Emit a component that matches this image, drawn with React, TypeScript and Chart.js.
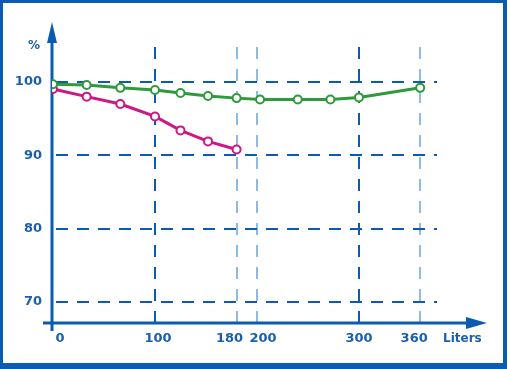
import React, { useEffect, useRef } from "react";
import { Chart, registerables } from "chart.js";

Chart.register(...registerables);

const liters = [0, 33, 66, 100, 125, 152, 180, 203, 240, 272, 300, 360];
const greenSeries = [99.7, 99.6, 99.2, 98.9, 98.5, 98.1, 97.8, 97.6, 97.6, 97.6, 97.9, 99.2];
const pinkLiters = [0, 33, 66, 100, 125, 152, 180];
const pinkSeries = [99.05, 98.0, 97.0, 95.3, 93.4, 91.9, 90.8];
const xTicks = [0, 100, 180, 200, 300, 360];
const yTicks = [70, 80, 90, 100];
const darkX = [100, 300];

const BLUE = "#0b5cb0";
const LIGHT = "#8dbbe6";
const TEXT = "#1a5fae";
const GREEN = "#2f9a3c";
const PINK = "#cc1784";
const FONT = "'DejaVu Sans', Verdana, sans-serif";

// small horizontal nudges so crowded labels don't collide (like the original)
const labelNudge: Record<number, number> = { 0: 7, 100: 3, 180: -7, 200: 6, 300: 0, 360: -6 };

const axesPlugin = {
  id: "arrowAxes",
  beforeDatasetsDraw(chart: any) {
    const { ctx, chartArea } = chart;
    const xs = chart.scales.x;
    const ys = chart.scales.y;
    const ax = xs.getPixelForValue(xs.min);
    const ay = ys.getPixelForValue(ys.min);
    ctx.save();
    ctx.strokeStyle = BLUE;
    ctx.fillStyle = BLUE;
    ctx.lineWidth = 3;
    ctx.beginPath();
    ctx.moveTo(ax, ay + 8);
    ctx.lineTo(ax, chartArea.top - 8);
    ctx.stroke();
    ctx.beginPath();
    ctx.moveTo(ax, chartArea.top - 25);
    ctx.lineTo(ax - 5, chartArea.top - 4);
    ctx.lineTo(ax + 5, chartArea.top - 4);
    ctx.closePath();
    ctx.fill();
    ctx.beginPath();
    ctx.moveTo(ax - 9, ay);
    ctx.lineTo(chartArea.right + 34, ay);
    ctx.stroke();
    ctx.beginPath();
    ctx.moveTo(chartArea.right + 50, ay);
    ctx.lineTo(chartArea.right + 29, ay - 6);
    ctx.lineTo(chartArea.right + 29, ay + 6);
    ctx.closePath();
    ctx.fill();
    ctx.fillStyle = TEXT;
    ctx.font = "bold 12px " + FONT;
    ctx.textBaseline = "middle";
    ctx.textAlign = "center";
    ctx.fillText("%", ax - 18, chartArea.top - 1);
    ctx.textAlign = "left";
    ctx.fillText("Liters", chartArea.right + 6, ay + 16);
    // x tick labels
    ctx.font = "bold 13px " + FONT;
    ctx.textAlign = "center";
    xTicks.forEach((v) => {
      ctx.fillText(String(v), xs.getPixelForValue(v) + (labelNudge[v] || 0), ay + 16);
    });
    ctx.restore();
  },
};

export default function App() {
  const ref = useRef<HTMLCanvasElement | null>(null);
  useEffect(() => {
    document.body.style.margin = "0";
    const canvas = ref.current;
    if (!canvas) return;
    const chart = new Chart(canvas, {
      type: "line",
      data: {
        datasets: [
          {
            label: "green",
            data: liters.map((x, i) => ({ x, y: greenSeries[i] })),
            borderColor: GREEN,
            backgroundColor: "#ffffff",
            borderWidth: 3,
            pointRadius: 4,
            pointBorderWidth: 2,
            pointBackgroundColor: "#ffffff",
            pointBorderColor: GREEN,
            tension: 0,
          },
          {
            label: "pink",
            data: pinkLiters.map((x, i) => ({ x, y: pinkSeries[i] })),
            borderColor: PINK,
            backgroundColor: "#ffffff",
            borderWidth: 3,
            pointRadius: 4,
            pointBorderWidth: 2,
            pointBackgroundColor: "#ffffff",
            pointBorderColor: PINK,
            tension: 0,
          },
        ],
      },
      options: {
        animation: false,
        responsive: false,
        devicePixelRatio: 1,
        layout: { padding: { top: 47, right: 73, left: 0, bottom: 0 } },
        plugins: { legend: { display: false }, tooltip: { enabled: false } },
        scales: {
          x: {
            type: "linear",
            min: -0.98,
            max: 376.5,
            afterBuildTicks(scale: any) {
              scale.ticks = xTicks.map((v) => ({ value: v }));
            },
            afterFit(scale: any) {
              scale.height = 46;
            },
            border: { display: false, dash: [12, 10] },
            grid: {
              drawTicks: false,
              lineWidth: 2,
              color: (c: any) =>
                c.tick && c.tick.value === 0
                  ? "rgba(0,0,0,0)"
                  : darkX.includes(c.tick?.value)
                  ? BLUE
                  : LIGHT,
            },
            ticks: { display: false },
          },
          y: {
            type: "linear",
            min: 67.14,
            max: 104.77,
            afterBuildTicks(scale: any) {
              scale.ticks = yTicks.map((v) => ({ value: v }));
            },
            afterFit(scale: any) {
              scale.width = 52;
            },
            border: { display: false, dash: [12, 9], dashOffset: -4 },
            grid: {
              drawTicks: false,
              lineWidth: 2,
              color: BLUE,
            },
            ticks: {
              padding: 10,
              color: TEXT,
              font: { family: FONT, size: 13, weight: "bold" },
            },
          },
        },
      },
      plugins: [axesPlugin],
    } as any);
    return () => chart.destroy();
  }, []);

  return (
    <div style={{ position: "relative", width: 510, height: 369, background: "#fff" }}>
      <canvas ref={ref} width={510} height={369} style={{ position: "absolute", left: 0, top: 0 }} />
      <div
        style={{
          position: "absolute",
          left: 0,
          top: 0,
          width: 507,
          height: 369,
          boxSizing: "border-box",
          borderTop: `3px solid ${BLUE}`,
          borderLeft: `3px solid ${BLUE}`,
          borderRight: `4px solid ${BLUE}`,
          borderBottom: `6px solid ${BLUE}`,
          pointerEvents: "none",
        }}
      />
    </div>
  );
}
